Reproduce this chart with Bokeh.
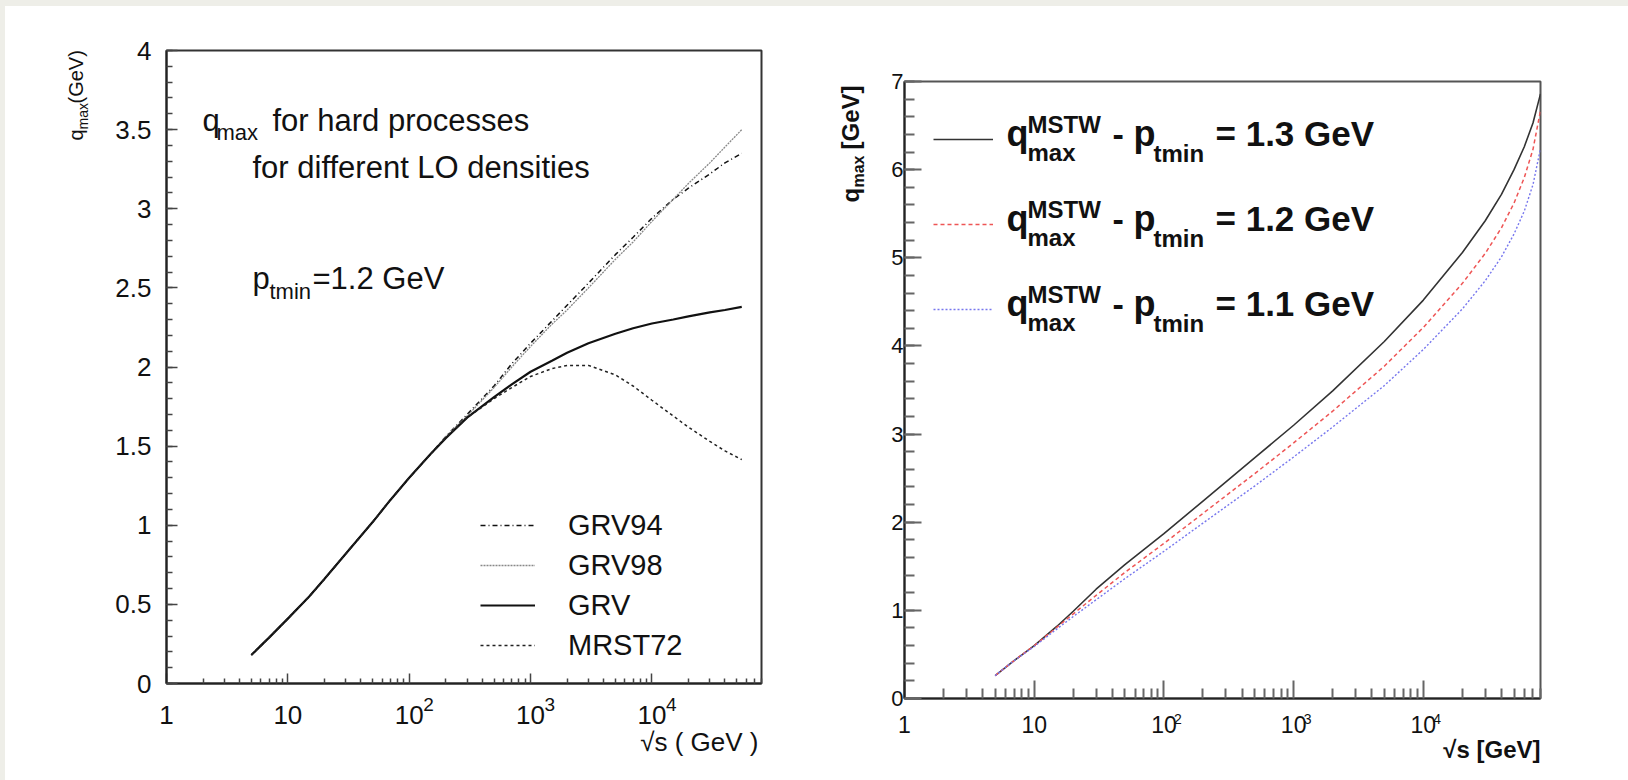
from math import pi
from bokeh.plotting import figure
from bokeh.models import Range1d, FixedTicker, Label, Legend, LegendItem
from bokeh.embed import file_html
from bokeh.resources import INLINE

FONT = "Liberation Sans"

# ---------------- data: left panel ----------------
left_x = [5, 7, 10, 15, 20, 30, 50, 70, 100, 150, 200, 300, 500, 700, 1000, 1500,
          2000, 3000, 5000, 7000, 10000, 15000, 20000, 30000, 40000, 55000]
grv = [0.18, 0.29, 0.41, 0.55, 0.66, 0.82, 1.02, 1.16, 1.30, 1.45, 1.55, 1.68, 1.81, 1.89,
       1.97, 2.04, 2.09, 2.15, 2.21, 2.245, 2.275, 2.30, 2.32, 2.345, 2.36, 2.38]
mrst72 = [0.18, 0.29, 0.41, 0.55, 0.66, 0.82, 1.02, 1.16, 1.30, 1.45, 1.55, 1.68, 1.80, 1.87,
          1.94, 1.99, 2.01, 2.01, 1.95, 1.88, 1.79, 1.69, 1.62, 1.53, 1.47, 1.415]
grv94 = [0.18, 0.29, 0.41, 0.55, 0.66, 0.82, 1.02, 1.16, 1.30, 1.45, 1.56, 1.70, 1.88, 2.02,
         2.15, 2.29, 2.39, 2.53, 2.71, 2.82, 2.94, 3.06, 3.13, 3.22, 3.29, 3.35]
grv98 = [0.18, 0.29, 0.41, 0.55, 0.66, 0.82, 1.02, 1.16, 1.30, 1.45, 1.56, 1.69, 1.87, 2.00,
         2.13, 2.27, 2.36, 2.50, 2.68, 2.79, 2.92, 3.06, 3.16, 3.29, 3.39, 3.50]
left_legend_labels = ["GRV94", "GRV98", "GRV", "MRST72"]

# ---------------- data: right panel ----------------
right_x = [5, 7, 10, 15, 20, 30, 50, 100, 200, 500, 1000, 2000, 5000, 10000, 20000,
           30000, 40000, 50000, 60000, 70000, 80000]
q_pt13 = [0.26, 0.43, 0.60, 0.82, 0.99, 1.24, 1.52, 1.87, 2.24, 2.73, 3.10, 3.49, 4.05, 4.52,
          5.06, 5.42, 5.72, 6.00, 6.26, 6.53, 6.86]
q_pt12 = [0.26, 0.43, 0.60, 0.81, 0.96, 1.17, 1.43, 1.76, 2.10, 2.55, 2.90, 3.26, 3.77, 4.21,
          4.71, 5.05, 5.34, 5.62, 5.91, 6.23, 6.67]
q_pt11 = [0.26, 0.43, 0.59, 0.79, 0.93, 1.12, 1.36, 1.67, 1.99, 2.41, 2.74, 3.08, 3.55, 3.96,
          4.42, 4.74, 5.01, 5.27, 5.53, 5.83, 6.24]
right_legend_values = ["1.3", "1.2", "1.1"]

# ---------------- ticks ----------------
x_major_ticks = [1, 10, 100, 1000, 10000]
x_tick_labels = ["1", "10", "10", "10", "10"]
x_tick_exponents = ["", "", "2", "3", "4"]
x_minor_ticks = [m * 10 ** d for d in range(5) for m in range(2, 10)]
left_y_ticks = [0, 0.5, 1, 1.5, 2, 2.5, 3, 3.5, 4]
left_y_tick_labels = ["0", "0.5", "1", "1.5", "2", "2.5", "3", "3.5", "4"]
left_y_minor = [i / 10 for i in range(41)]
right_y_ticks = [0, 1, 2, 3, 4, 5, 6, 7]
right_y_tick_labels = ["0", "1", "2", "3", "4", "5", "6", "7"]
right_y_minor = [round(i * 0.2, 1) for i in range(36)]

BASE_FIX = 0.33  # em: compensates the renderer's baseline placement


def lab(p, x, y, text, dx, dy, size, bold=False, angle=0.0, align="left", panel="center"):
    if angle == 0.0:
        dy = dy + BASE_FIX * size
    else:
        dx = dx - BASE_FIX * size
    p.add_layout(Label(x=x, y=y, x_offset=dx, y_offset=dy, text=text,
                       text_font=FONT, text_font_size=f"{size}px",
                       text_font_style="bold" if bold else "normal",
                       text_align=align, text_baseline="alphabetic",
                       angle=angle, text_color="#111111"), panel)


def style_axes(p, tick_major, tick_minor, xlab_size, ylab_size, xstand, ystand, tick_color, tick_w):
    for ax in (p.xaxis[0], p.yaxis[0]):
        ax.axis_line_color = "#222222"
        ax.axis_line_width = 2
        ax.major_tick_out = 0
        ax.minor_tick_out = 0
        ax.major_tick_line_color = tick_color
        ax.minor_tick_line_color = tick_color
        ax.major_tick_line_width = tick_w
        ax.minor_tick_line_width = tick_w
        ax.major_label_text_font = FONT
        ax.major_label_text_color = "#111111"
    p.xaxis[0].major_tick_in = tick_major[0]
    p.xaxis[0].minor_tick_in = tick_minor[0]
    p.yaxis[0].major_tick_in = tick_major[1]
    p.yaxis[0].minor_tick_in = tick_minor[1]
    p.xaxis[0].major_label_text_font_size = f"{xlab_size}px"
    p.yaxis[0].major_label_text_font_size = f"{ylab_size}px"
    p.xaxis[0].major_label_standoff = xstand
    p.yaxis[0].major_label_standoff = ystand


# ================= LEFT PANEL =================
p1 = figure(width=805, height=774, x_axis_type="log",
            x_range=Range1d(1, 8e4), y_range=Range1d(0, 4),
            output_backend="svg", toolbar_location=None,
            min_border_left=161, min_border_right=49, min_border_top=44, min_border_bottom=97)
p1.grid.visible = False
p1.outline_line_color = "#333333"
p1.outline_line_width = 2

p1.xaxis[0].ticker = FixedTicker(ticks=x_major_ticks, minor_ticks=x_minor_ticks)
p1.xaxis[0].major_label_overrides = dict(zip(x_major_ticks, x_tick_labels))
p1.yaxis[0].ticker = FixedTicker(ticks=left_y_ticks, minor_ticks=left_y_minor)
p1.yaxis[0].major_label_overrides = dict(zip(left_y_ticks, left_y_tick_labels))
style_axes(p1, (10, 11), (5, 6), 26, 26, 22, 15, "#444444", 1.5)

r94 = p1.line(left_x, grv94, line_color="#111111", line_width=1.5, line_dash="5 3 1 3")
r98 = p1.line(left_x, grv98, line_color="#888888", line_width=1.3, line_dash="2 1")
rgrv = p1.line(left_x, grv, line_color="#111111", line_width=2.2)
rmrst = p1.line(left_x, mrst72, line_color="#222222", line_width=1.5, line_dash="3 3")

leg1 = Legend(items=[LegendItem(label=t, renderers=[r]) for t, r in
                     zip(left_legend_labels, [r94, r98, rgrv, rmrst])],
              location=(314, 20), orientation="vertical",
              glyph_width=55, glyph_height=36, label_height=36, spacing=4,
              padding=0, margin=0, label_standoff=33,
              label_text_font=FONT, label_text_font_size="29px", label_text_color="#111111",
              border_line_alpha=0, background_fill_alpha=0)
p1.add_layout(leg1)

# decade exponents (side panel so they are not clipped by the frame)
for t, e in zip(x_major_ticks, x_tick_exponents):
    if e:
        lab(p1, t, 0, e, 14, -27, 19, panel="right")

# in-frame texts (anchored to top-left corner: x=1, y=4)
lab(p1, 1, 4, "q", 36, -80, 31)
lab(p1, 1, 4, "max", 50, -89, 22)
lab(p1, 1, 4, "for hard processes", 106, -80, 31)
lab(p1, 1, 4, "for different LO densities", 86, -127, 31)
lab(p1, 1, 4, "p", 86, -238, 31)
lab(p1, 1, 4, "tmin", 103, -248, 22)
lab(p1, 1, 4, "=1.2 GeV", 146, -238, 31)

# axis titles
lab(p1, 1, 4, "q", -84, -90, 20, angle=pi / 2, panel="left")
lab(p1, 1, 4, "max", -79, -79, 14, angle=pi / 2, panel="left")
lab(p1, 1, 4, "(GeV)", -84, -53, 20, angle=pi / 2, panel="left")
lab(p1, 8e4, 0, "\u221as ( GeV )", -3, -67, 26, align="right", panel="below")

# ================= RIGHT PANEL =================
p2 = figure(width=818, height=774, x_axis_type="log",
            x_range=Range1d(1, 8e4), y_range=Range1d(0, 7),
            output_backend="svg", toolbar_location=None,
            min_border_left=94, min_border_right=88, min_border_top=75, min_border_bottom=82)
p2.grid.visible = False
p2.outline_line_color = "#555555"
p2.outline_line_width = 2

p2.xaxis[0].ticker = FixedTicker(ticks=x_major_ticks, minor_ticks=x_minor_ticks)
p2.xaxis[0].major_label_overrides = dict(zip(x_major_ticks, x_tick_labels))
p2.yaxis[0].ticker = FixedTicker(ticks=right_y_ticks, minor_ticks=right_y_minor)
p2.yaxis[0].major_label_overrides = dict(zip(right_y_ticks, right_y_tick_labels))
style_axes(p2, (18, 17), (10, 10), 23, 22, 17, 1, "#666666", 2)

rb = p2.line(right_x, q_pt13, line_color="#333333", line_width=1.6)
rr = p2.line(right_x, q_pt12, line_color="#ee5555", line_width=1.5, line_dash="4 3")
rbl = p2.line(right_x, q_pt11, line_color="#7777ee", line_width=1.4, line_dash="2 2")

leg2 = Legend(items=[LegendItem(label=" ", renderers=[r]) for r in [rb, rr, rbl]],
              location=(29, 369), orientation="vertical",
              glyph_width=60, glyph_height=40, label_height=40, spacing=45,
              padding=0, margin=0, label_standoff=0,
              label_text_font=FONT, label_text_font_size="2px",
              border_line_alpha=0, background_fill_alpha=0)
p2.add_layout(leg2)

for i, v in enumerate(right_legend_values):
    L = 58 + 85 * i  # legend line position below the frame top
    lab(p2, 1, 7, "q", 102, -(L + 6), 36, bold=True)
    lab(p2, 1, 7, "MSTW", 123, -(L - 7), 24, bold=True)
    lab(p2, 1, 7, "max", 123, -(L + 21), 24, bold=True)
    lab(p2, 1, 7, "-", 208, -(L + 6), 34, bold=True)
    lab(p2, 1, 7, "p", 229, -(L + 6), 36, bold=True)
    lab(p2, 1, 7, "tmin", 249, -(L + 22), 24, bold=True)
    lab(p2, 1, 7, "= " + v + " GeV", 311, -(L + 6), 35, bold=True)

for t, e in zip(x_major_ticks, x_tick_exponents):
    if e:
        lab(p2, t, 0, e, 10, -25, 14, panel="right")

lab(p2, 1, 7, "q", -46, -121, 24, bold=True, angle=pi / 2, panel="left")
lab(p2, 1, 7, "max", -41, -106, 16, bold=True, angle=pi / 2, panel="left")
lab(p2, 1, 7, "[GeV]", -46, -68, 24, bold=True, angle=pi / 2, panel="above")
lab(p2, 8e4, 0, "\u221as [GeV]", 0, -59, 24, bold=True, align="right", panel="below")

html = file_html([p1, p2], INLINE)
css = ("<style>html{margin:0!important;padding:0!important;background:#ffffff!important;"
       "overflow:hidden!important;}"
       "body{margin:0!important;padding:0!important;background:#ffffff!important;"
       "box-sizing:border-box!important;border-top:6px solid #eeeee8!important;"
       "border-left:5px solid #eeeee8!important;"
       "overflow:hidden!important;display:flex!important;flex-direction:row!important;"
       "align-items:flex-start!important;gap:0!important;}</style>")
i = html.rfind("</head>")
html = html[:i] + css + html[i:]
open("out.html", "w").write(html)
